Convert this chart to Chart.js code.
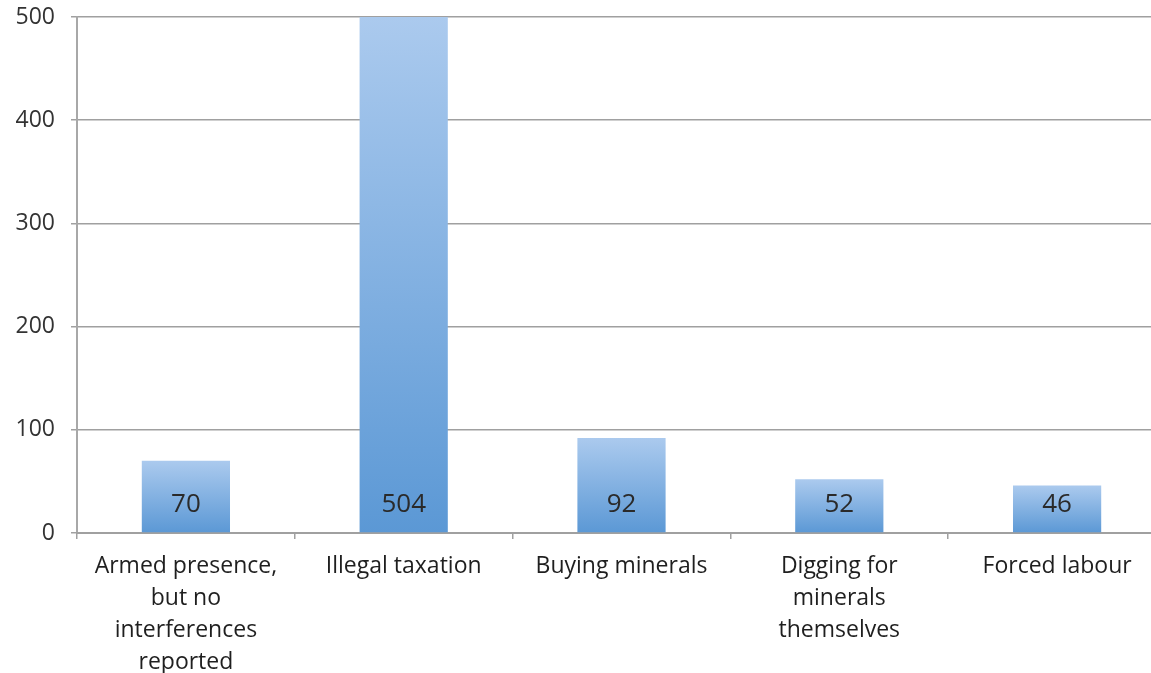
<!DOCTYPE html>
<html>
<head>
<meta charset="utf-8">
<script src="https://cdn.jsdelivr.net/npm/chart.js@4"></script>
<style>
  html, body { margin: 0; padding: 0; overflow: hidden; background: #fff; }
  #wrap { position: relative; width: 1166px; height: 673px; }
</style>
</head>
<body>
<div id="wrap"><canvas id="c"></canvas></div>
<script>
const categories = [
  ["Armed presence,", "but no", "interferences", "reported"],
  "Illegal taxation",
  "Buying minerals",
  ["Digging for", "minerals", "themselves"],
  "Forced labour"
];
const values = [70, 504, 92, 52, 46];
const yTicks = [0, 100, 200, 300, 400, 500];

const FONT = "'Open Sans', 'DejaVu Sans', sans-serif";

function barGradient(context) {
  const chart = context.chart;
  const ys = chart.scales.y;
  if (!ys || context.dataIndex === undefined) return '#7fb0e2';
  const v = Math.min(values[context.dataIndex], ys.max);
  const top = ys.getPixelForValue(v);
  const bottom = ys.getPixelForValue(0);
  if (!isFinite(top) || !isFinite(bottom) || top === bottom) return '#7fb0e2';
  const g = chart.ctx.createLinearGradient(0, top, 0, bottom);
  g.addColorStop(0, '#abcaee');
  g.addColorStop(1, '#5b98d5');
  return g;
}

const valueLabels = {
  id: 'valueLabels',
  afterDatasetsDraw(chart) {
    const ctx = chart.ctx;
    const meta = chart.getDatasetMeta(0);
    const base = chart.scales.y.getPixelForValue(0);
    ctx.save();
    ctx.font = "26px " + FONT;
    ctx.fillStyle = '#2a2a2a';
    ctx.textAlign = 'center';
    ctx.textBaseline = 'middle';
    meta.data.forEach((el, i) => {
      ctx.fillText(String(values[i]), el.x, base - 28);
    });
    ctx.restore();
  }
};

new Chart(document.getElementById('c'), {
  type: 'bar',
  data: {
    labels: categories,
    datasets: [{
      data: values,
      backgroundColor: barGradient,
      borderWidth: 0,
      categoryPercentage: 1,
      barPercentage: 0.405
    }]
  },
  options: {
    responsive: true,
    maintainAspectRatio: false,
    animation: false,
    layout: { padding: { top: 17, left: 0, right: 0, bottom: 0 } },
    plugins: { legend: { display: false }, tooltip: { enabled: false } },
    scales: {
      y: {
        min: 0, max: 500,
        afterBuildTicks(scale) { scale.ticks = yTicks.map(v => ({ value: v })); },
        afterFit(scale) { scale.width = 77; scale.paddingTop = 0; scale.paddingBottom = 0; },
        grid: { color: '#a0a0a0', lineWidth: 1.5, tickLength: 6, tickColor: '#a0a0a0' },
        border: { color: '#a8a8a8', width: 2 },
        ticks: { font: { size: 23, family: FONT }, color: '#333333', padding: 16 }
      },
      x: {
        offset: true,
        afterFit(scale) { scale.height = 140; scale.paddingLeft = 0; scale.paddingRight = 0; },
        grid: { drawOnChartArea: false, drawTicks: true, tickLength: 6, color: '#a0a0a0', lineWidth: 1.5, offset: true },
        border: { color: '#a0a0a0', width: 2 },
        ticks: { font: { size: 23, family: FONT, lineHeight: 1.4 }, color: '#1f1f1f', padding: 11, maxRotation: 0, autoSkip: false }
      }
    }
  },
  plugins: [valueLabels]
});
</script>
</body>
</html>
